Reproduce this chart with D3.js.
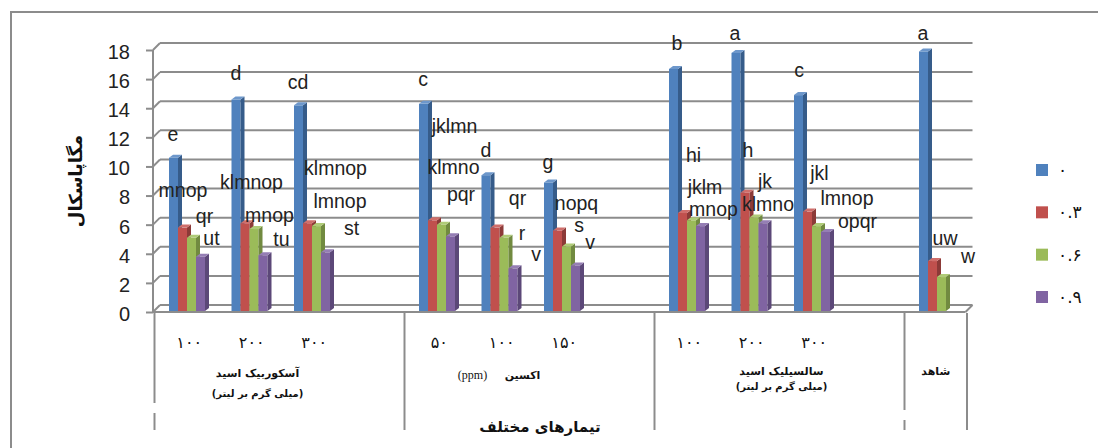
<!DOCTYPE html>
<html>
<head>
<meta charset="utf-8">
<script src="https://cdn.jsdelivr.net/npm/d3@7/dist/d3.min.js"></script>
<style>
  html, body { margin: 0; padding: 0; background: #fff; }
  svg { display: block; }
</style>
</head>
<body>
<script>
// Floor slots from left to right; "gap" slots are empty spacers between treatment families
const slotKeys = ["asc100", "asc200", "asc300", "gap1", "aux50", "aux100", "aux150", "gap2",
                  "sal100", "sal200", "sal300", "gap3", "control"];
const barKeys = ["asc100", "asc200", "asc300", "aux50", "aux100", "aux150",
                 "sal100", "sal200", "sal300", "control"];
const tickLabels = ["۱۰۰", "۲۰۰", "۳۰۰", "۵۰", "۱۰۰", "۱۵۰", "۱۰۰", "۲۰۰", "۳۰۰", ""];
const seriesNames = ["۰", "۰.۳", "۰.۶", "۰.۹"];

// Measured pressure (MPa) for each series
const level0 = [10.6, 14.6, 14.2, 14.3, 9.4, 8.9, 16.7, 17.8, 14.9, 17.9];
const level3 = [5.8, 6.1, 6.1, 6.3, 5.8, 5.6, 6.8, 8.2, 6.9, 3.5];
const level6 = [5.1, 5.7, 5.9, 6.0, 5.1, 4.5, 6.3, 6.5, 5.9, 2.4];
const level9 = [3.8, 3.9, 4.1, 5.2, 3.0, 3.2, 5.9, 6.1, 5.5, 0];

// Mean-comparison letters for each bar
const letters0 = ["e", "d", "cd", "c", "d", "g", "b", "a", "c", "a"];
const letters3 = ["mnop", "klmnop", "klmnop", "jklmn", "qr", "nopq", "hi", "h", "jkl", "uw"];
const letters6 = ["qr", "mnop", "lmnop", "klmno", "r", "s", "jklm", "jk", "lmnop", "w"];
const letters9 = ["ut", "tu", "st", "pqr", "v", "v", "mnop", "klmno", "opqr", ""];

const yTicks = [0, 2, 4, 6, 8, 10, 12, 14, 16, 18];

// Treatment families shown under the floor
const familyNames = ["آسکوربیک اسید", "اکسین", "سالسیلیک اسید", "شاهد"];
const familyUnits = ["(میلی گرم بر لیتر)", "(ppm)", "(میلی گرم بر لیتر)", ""];
const familyFirstSlot = ["asc100", "aux50", "sal100", "control"];

const series = [level0, level3, level6, level9];
const letterSets = [letters0, letters3, letters6, letters9];

// ---- layout (pixels) ----
const W = 1098, H = 448;
const depthX = 7, depthY = 7;          // back-wall offset of the 3D frame
const barW = 9, barInset = 16;         // bar width and inset of the cluster inside a slot
const barDX = 4, barDY = 3;            // bar side / top face depth
const gridColor = "#8c8c8c";
const faces = [
  { front: "#4F81BD", side: "#365C8A", top: "#6D97CB" },
  { front: "#C0504D", side: "#8C3A38", top: "#CF6E6B" },
  { front: "#9BBB59", side: "#718A40", top: "#AFCB77" },
  { front: "#8064A2", side: "#5C4878", top: "#957EB4" }
];
// label placement relative to the top centre of its bar
const letterNudge = [
  [[-0.5, -24], [0, -26.5], [-0.5, -23], [-0.5, -25], [0, -25], [-0.5, -20.5], [3.5, -26], [-1, -20], [0.5, -25], [-0.5, -18.4]],
  [[0.5, -38], [6.5, -41], [28, -55], [22, -94], [22.5, -30], [19, -27], [11, -58], [3, -42.6], [12, -38.6], [12.5, -23]],
  [[13, -21.8], [15.5, -14], [23.5, -25], [12, -58], [18, -5], [12.5, -22], [13.5, -33], [11, -36], [30.5, -28], [26.5, -21]],
  [[11, -18.5], [18.5, -16], [26, -24], [10.5, -42], [23, -14], [14.5, -23.5], [13, -17], [5, -19], [32, -11], [0, 0]]
];
const familyNudge = [-22, -33, 2, 0];

const latin = "'Liberation Sans', Arial, sans-serif";
const persian = "'DejaVu Sans', sans-serif";

const svg = d3.select("body").append("svg")
  .attr("width", W).attr("height", H);

const x = d3.scaleBand().domain(slotKeys).range([153, 965.5]).paddingInner(0).paddingOuter(0);
const y = d3.scaleLinear().domain([0, 18]).range([312, 50]);
const x0 = x.range()[0], x1 = x.range()[1];

// outer frame of the chart object
svg.append("rect")
  .attr("x", 11).attr("y", 12).attr("width", W).attr("height", H)
  .attr("fill", "none").attr("stroke", gridColor).attr("stroke-width", 2);

// back-wall gridlines
svg.append("g").selectAll("line").data(yTicks).join("line")
  .attr("x1", x0 + depthX).attr("x2", x1 + depthX)
  .attr("y1", d => y(d) - depthY).attr("y2", d => y(d) - depthY)
  .attr("stroke", gridColor).attr("stroke-width", 2);

// diagonals joining the front axis to the wall
svg.append("g").selectAll("line").data(yTicks).join("line")
  .attr("x1", x0).attr("x2", x0 + depthX)
  .attr("y1", d => y(d)).attr("y2", d => y(d) - depthY)
  .attr("stroke", gridColor).attr("stroke-width", 2);

// floor front edge and right edge
svg.append("line")
  .attr("x1", x0).attr("x2", x1).attr("y1", y(0)).attr("y2", y(0))
  .attr("stroke", gridColor).attr("stroke-width", 2);
svg.append("line")
  .attr("x1", x1).attr("x2", x1 + depthX).attr("y1", y(0)).attr("y2", y(0) - depthY)
  .attr("stroke", gridColor).attr("stroke-width", 2);

// value axis
const yAxis = d3.axisLeft(y).tickValues(yTicks).tickSize(7).tickPadding(16);
const yG = svg.append("g").attr("transform", `translate(${x0},0)`).call(yAxis);
yG.select(".domain").remove();
yG.selectAll(".tick line").attr("stroke", gridColor).attr("stroke-width", 2);
yG.selectAll(".tick text")
  .attr("font-family", latin).attr("font-size", 20).attr("fill", "#222").attr("dy", "0.42em");
svg.append("line")
  .attr("x1", x0).attr("x2", x0).attr("y1", y(0)).attr("y2", y(18))
  .attr("stroke", gridColor).attr("stroke-width", 2);

// 3D clustered bars
const barsG = svg.append("g");
barKeys.forEach((key, i) => {
  series.forEach((vals, k) => {
    const v = vals[i];
    if (!(v > 0)) return;
    const left = x(key) + barInset + k * barW;
    const top = y(v);
    const bottom = y(0) - 1;
    const f = faces[k];
    barsG.append("rect")
      .attr("x", left).attr("y", top).attr("width", barW).attr("height", bottom - top)
      .attr("fill", f.front);
    barsG.append("polygon")
      .attr("points", [[left + barW, top], [left + barW + barDX, top - barDY],
                       [left + barW + barDX, bottom - barDY], [left + barW, bottom]].join(" "))
      .attr("fill", f.side);
    barsG.append("polygon")
      .attr("points", [[left, top], [left + barDX, top - barDY],
                       [left + barW + barDX, top - barDY], [left + barW, top]].join(" "))
      .attr("fill", f.top);
  });
});

// comparison letters
const lettersG = svg.append("g")
  .attr("font-family", latin).attr("font-size", 19.5).attr("fill", "#222");
barKeys.forEach((key, i) => {
  series.forEach((vals, k) => {
    const txt = letterSets[k][i];
    if (!txt) return;
    const cx = x(key) + barInset + k * barW + barW / 2;
    const [dx, dy] = letterNudge[k][i];
    lettersG.append("text")
      .attr("x", cx + dx).attr("y", y(vals[i]) + dy)
      .attr("text-anchor", "middle").attr("dominant-baseline", "central")
      .text(txt);
  });
});

// category tick labels
svg.append("g").selectAll("text").data(barKeys).join("text")
  .attr("x", d => x(d) + x.bandwidth() / 2 + 5)
  .attr("y", 342)
  .attr("text-anchor", "middle").attr("dominant-baseline", "central")
  .attr("direction", "ltr")
  .attr("font-family", persian).attr("font-size", 16).attr("letter-spacing", 5)
  .attr("fill", "#111")
  .text((d, i) => tickLabels[i]);

// family dividers under the floor
const dividerXs = familyFirstSlot.map(k => x(k) + 1.5).concat([x1 + 1.5]);
const divG = svg.append("g").attr("stroke", gridColor).attr("stroke-width", 2);
dividerXs.forEach((dx, j) => {
  let segs = [[313, 430]];
  if (j === 0) segs = [[313, 403], [413, 430]];
  if (j === 3) segs = [[313, 410], [420, 430]];
  segs.forEach(([a, b]) => {
    divG.append("line").attr("x1", dx).attr("x2", dx).attr("y1", a).attr("y2", b);
  });
});

// family names and units
familyNames.forEach((name, j) => {
  const start = dividerXs[j], end = dividerXs[j + 1];
  const cx = (start + end) / 2 + familyNudge[j];
  if (j === 1) {
    svg.append("text")
      .attr("x", cx + 26).attr("y", 375)
      .attr("text-anchor", "middle").attr("dominant-baseline", "central")
      .attr("direction", "rtl")
      .attr("font-family", persian).attr("font-weight", "bold").attr("font-size", 11)
      .attr("fill", "#111").text(name);
    svg.append("text")
      .attr("x", cx - 24).attr("y", 375)
      .attr("text-anchor", "middle").attr("dominant-baseline", "central")
      .attr("font-family", "'Liberation Serif', serif").attr("font-size", 12)
      .attr("fill", "#111").text(familyUnits[j]);
    return;
  }
  const nameY = j === 0 ? 373 : 371;
  svg.append("text")
    .attr("x", cx).attr("y", nameY)
    .attr("text-anchor", "middle").attr("dominant-baseline", "central")
    .attr("direction", "rtl")
    .attr("font-family", persian).attr("font-weight", "bold").attr("font-size", 11)
    .attr("fill", "#111").text(name);
  if (familyUnits[j]) {
    svg.append("text")
      .attr("x", cx).attr("y", j === 0 ? 393 : 386)
      .attr("text-anchor", "middle").attr("dominant-baseline", "central")
      .attr("direction", "rtl")
      .attr("font-family", persian).attr("font-weight", "bold").attr("font-size", 10)
      .attr("fill", "#111").text(familyUnits[j]);
  }
});

// axis titles
svg.append("text")
  .attr("x", 540).attr("y", 427)
  .attr("text-anchor", "middle").attr("dominant-baseline", "central")
  .attr("direction", "rtl")
  .attr("font-family", persian).attr("font-weight", "bold").attr("font-size", 15)
  .attr("fill", "#111").text("تیمارهای مختلف");

svg.append("text")
  .attr("transform", "translate(75,181) rotate(-90)")
  .attr("text-anchor", "middle").attr("dominant-baseline", "central")
  .attr("direction", "rtl")
  .attr("font-family", persian).attr("font-weight", "bold").attr("font-size", 18)
  .attr("fill", "#111").text("مگاپاسکال");

// legend
const legendY = d3.scalePoint().domain(seriesNames).range([170, 297]);
const legG = svg.append("g");
seriesNames.forEach((name, k) => {
  legG.append("rect")
    .attr("x", 1036).attr("y", legendY(name) - 6).attr("width", 12).attr("height", 12)
    .attr("fill", faces[k].front);
  legG.append("text")
    .attr("x", 1058).attr("y", legendY(name))
    .attr("dominant-baseline", "central").attr("direction", "ltr")
    .attr("font-family", persian).attr("font-size", 17).attr("letter-spacing", 3)
    .attr("fill", "#111").text(name);
});
</script>
</body>
</html>
